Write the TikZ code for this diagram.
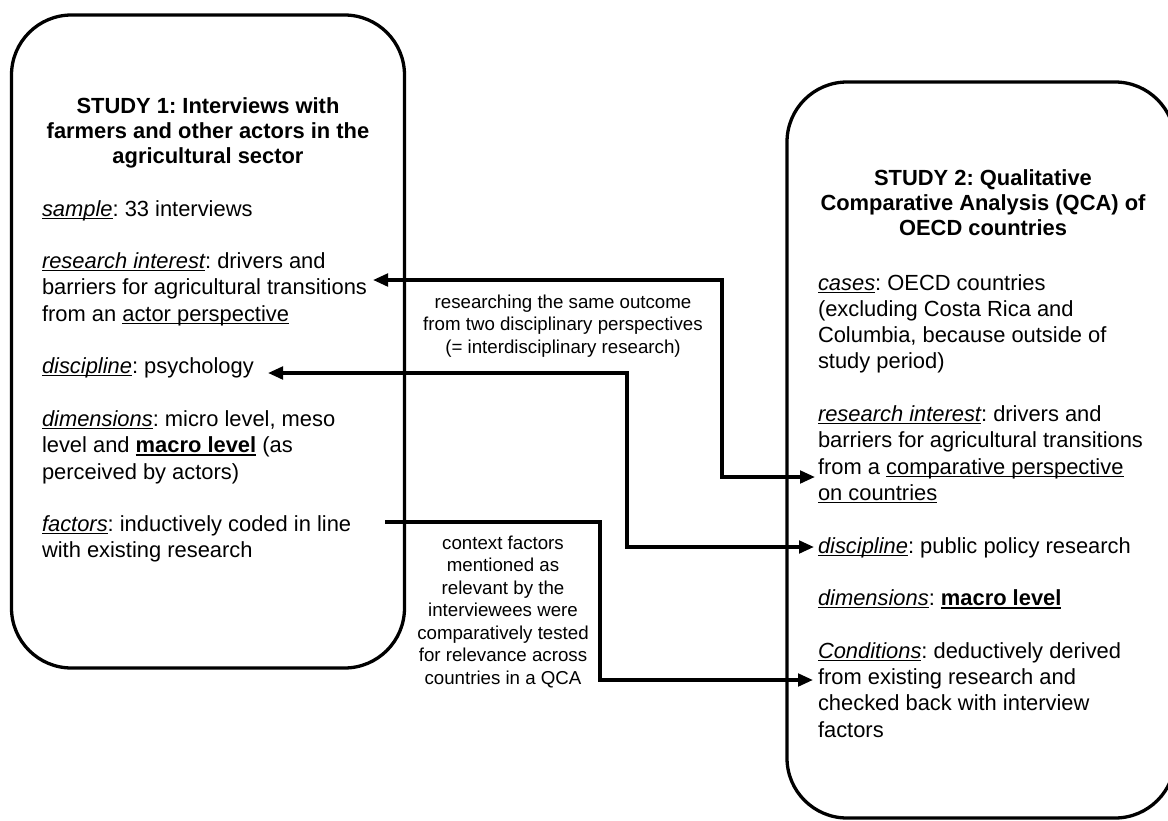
\documentclass[tikz,border=0pt]{standalone}
\usepackage{fontspec}
\setmainfont{Liberation Sans}
\usetikzlibrary{arrows.meta}
\frenchspacing
\newcommand{\ulx}[1]{\setbox0\hbox{#1}\rlap{\rule[-2.6pt]{\wd0}{1.1pt}}\box0\relax}
\newcommand{\ulb}[1]{\setbox0\hbox{#1}\rlap{\rule[-2.9pt]{\wd0}{1.5pt}}\box0\relax}
\newcommand{\mainsz}{\fontsize{21.9pt}{26.3pt}\selectfont}
\newcommand{\titlesz}{\fontsize{21.9pt}{25.4pt}\selectfont}
\newcommand{\labsz}{\fontsize{18.7pt}{22.5pt}\selectfont}
\tikzset{
  studybox/.style={draw, line width=3.3pt, rounded corners=60pt, inner sep=0pt},
  txt/.style={inner sep=0pt, outer sep=0pt},
  conn/.style={line width=3.4pt, line join=miter},
  tip/.tip={Triangle[length=15pt,width=12.5pt]}
}
\begin{document}
\begin{tikzpicture}[x=1pt,y=-1pt]
\useasboundingbox[fill=white] (0,0) rectangle (1168,820);

% boxes
\node[studybox, minimum width=393pt, minimum height=653pt] (s1) at (208,341.5) {};
\node[studybox, minimum width=388pt, minimum height=736pt] (s2) at (981,450) {};

% titles
\node[txt, anchor=base, font=\titlesz\bfseries] (t1) at (208,113)
  {\begin{tabular}[t]{@{}c@{}}\bfseries STUDY 1: Interviews with\\ \bfseries farmers and other actors in the\\ \bfseries agricultural sector\end{tabular}};
\node[txt, anchor=base, font=\titlesz\bfseries] (t2) at (983,185)
  {\begin{tabular}[t]{@{}c@{}}\bfseries STUDY 2: Qualitative\\ \bfseries Comparative Analysis (QCA) of\\ \bfseries OECD countries\end{tabular}};

% bodies
\node[txt, anchor=base west, font=\mainsz] (b1) at (42,216)
  {\begin{tabular}[t]{@{}l@{}}
  \ulx{\itshape sample}: 33 interviews\\
  \\
  \ulx{\itshape research interest}: drivers and\\
  barriers for agricultural transitions\\
  from an \ulx{actor perspective}\\
  \\
  \ulx{\itshape discipline}: psychology\\
  \\
  \ulx{\itshape dimensions}: micro level, meso\\
  level and \ulb{\bfseries macro level} (as\\
  perceived by actors)\\
  \\
  \ulx{\itshape factors}: inductively coded in line\\
  with existing research
  \end{tabular}};
\node[txt, anchor=base west, font=\mainsz] (b2) at (818,290)
  {\begin{tabular}[t]{@{}l@{}}
  \ulx{\itshape cases}: OECD countries\\
  (excluding Costa Rica and\\
  Columbia, because outside of\\
  study period)\\
  \\
  \ulx{\itshape research interest}: drivers and\\
  barriers for agricultural transitions\\
  from a \ulx{comparative perspective}\\
  \ulx{on countries}\\
  \\
  \ulx{\itshape discipline}: public policy research\\
  \\
  \ulx{\itshape dimensions}: \ulb{\bfseries macro level}\\
  \\
  \ulx{\itshape Conditions}: deductively derived\\
  from existing research and\\
  checked back with interview\\
  factors
  \end{tabular}};

% connector labels
\node[txt, anchor=base, font=\labsz] (l1) at (563,308)
  {\begin{tabular}[t]{@{}c@{}}researching the same outcome\\ from two disciplinary perspectives\\ (= interdisciplinary research)\end{tabular}};
\node[txt, anchor=base, font=\labsz] (l2) at (503,549)
  {\begin{tabular}[t]{@{}c@{}}context factors\\ mentioned as\\ relevant by the\\ interviewees were\\ comparatively tested\\ for relevance across\\ countries in a QCA\end{tabular}};

% connector end points and bends
\coordinate (r1L) at (373,280);
\coordinate (r1R) at (815,477);
\coordinate (r1x) at (722,0);
\coordinate (d1L) at (268,373);
\coordinate (d1R) at (814,547);
\coordinate (d1x) at (627,0);
\coordinate (f1L) at (385,522);
\coordinate (f1R) at (813,680);
\coordinate (f1x) at (600,0);

\draw[conn, tip-tip] (r1L) -- (r1L -| r1x) -- (r1x |- r1R) -- (r1R);
\draw[conn, tip-tip] (d1L) -- (d1L -| d1x) -- (d1x |- d1R) -- (d1R);
\draw[conn, -tip] (f1L) -- (f1L -| f1x) -- (f1x |- f1R) -- (f1R);
\end{tikzpicture}
\end{document}
